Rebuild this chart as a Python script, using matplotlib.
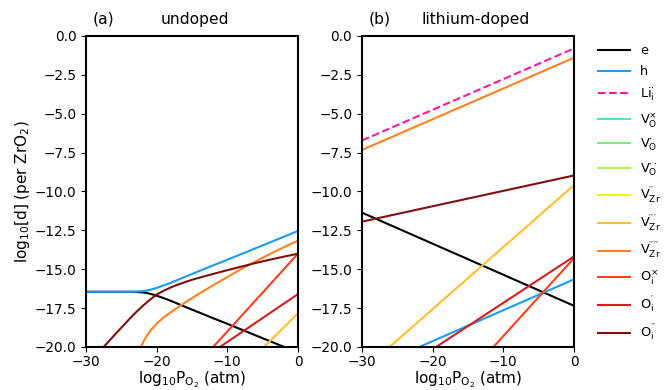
import matplotlib
import matplotlib.pyplot as plt

matplotlib.use("Agg")

# ---- panel (a): undoped ----
hx_a = [-30, -24, -23, -22, -21.5, -21, -20.5, -20, -19, -18, -16, -14, -12,
        -10, -8, -6, -4, -2, 0]
h_a = [-16.45, -16.45, -16.44, -16.41, -16.38, -16.33, -16.27, -16.20, -16.04,
       -15.87, -15.49, -15.12, -14.75, -14.39, -14.02, -13.65, -13.28, -12.91,
       -12.54]
e_a = [-16.45, -16.45, -16.46, -16.49, -16.52, -16.57, -16.63, -16.70, -16.86,
       -17.03, -17.41, -17.78, -18.15, -18.51, -18.88, -19.25, -19.62, -19.99,
       -20.36]

oi2x_a = [-30, -27.5, -26, -24, -23, -22, -21, -20, -19, -18, -17, -16, -15,
          -14, -12, -10, -8, -6, -4, -2, 0]
oi2_a = [-21.25, -20.0, -19.25, -18.27, -17.8, -17.37, -16.98, -16.63, -16.38,
         -16.17, -15.99, -15.83, -15.68, -15.55, -15.3, -15.06, -14.83, -14.6,
         -14.39, -14.19, -14.0]

vzr4x_a = [-22.4, -22.2, -21.8, -21.3, -20.7, -20, -19, -18, -17, -16, -14,
           -12, -10, -8, -6, -4, -2, 0]
vzr4_a = [-20.3, -20.0, -19.6, -19.2, -18.85, -18.5, -18.1, -17.77, -17.45,
          -17.15, -16.57, -16.03, -15.5, -14.98, -14.5, -14.03, -13.58, -13.16]

oi0x_a = [-12.0, 0]
oi0_a = [-20.0, -14.0]
oi1x_a = [-11.05, 0]
oi1_a = [-20.0, -16.6]
vzr3x_a = [-4.8, 0]
vzr3_a = [-20.0, -17.83]

# ---- panel (b): lithium-doped ----
pO2_b = [-30, 0]
li_b = [-6.72, -0.80]
vzr4_b = [-7.33, -1.40]
oi2_b = [-11.94, -8.97]
e_b = [-11.36, -17.35]
vzr3x_b = [-26.1, 0]
vzr3_b = [-20.0, -9.59]
hx_b = [-21.9, 0]
h_b = [-20.0, -15.65]
oi1x_b = [-19.5, 0]
oi1_b = [-20.0, -14.18]
oi0x_b = [-11.4, 0]
oi0_b = [-20.0, -14.29]

labels = {
    "e": "e",
    "h": "h",
    "li": r"$\mathregular{Li_i^{\cdot}}$",
    "vo0": r"$\mathregular{V_O^{\times}}$",
    "vo1": r"$\mathregular{V_O^{\cdot}}$",
    "vo2": r"$\mathregular{V_O^{\cdot\cdot}}$",
    "vzr2": r"$\mathregular{V_{Zr}^{\prime\prime}}$",
    "vzr3": r"$\mathregular{V_{Zr}^{\prime\prime\prime}}$",
    "vzr4": r"$\mathregular{V_{Zr}^{\prime\prime\prime\prime}}$",
    "oi0": r"$\mathregular{O_i^{\times}}$",
    "oi1": r"$\mathregular{O_i^{\prime}}$",
    "oi2": r"$\mathregular{O_i^{\prime\prime}}$",
}
colors = {
    "e": "black", "h": "#1a9cf5", "li": "#ff1a9c",
    "vo0": "#3cf5b4", "vo1": "#78f07c", "vo2": "#b4f050",
    "vzr2": "#e8f51e", "vzr3": "#ffc02a", "vzr4": "#ff8020",
    "oi0": "#ff4020", "oi1": "#d21e1e", "oi2": "#801010",
}

plt.rcParams["font.size"] = 9.3
fig = plt.figure(figsize=(6.66, 3.9), dpi=100)
ax1 = fig.add_axes([0.1291, 0.1103, 0.3183, 0.7974])
ax2 = fig.add_axes([0.5435, 0.1103, 0.3183, 0.7974])
lw = 1.5

ax1.plot(hx_a, e_a, color=colors["e"], lw=lw)
ax1.plot(hx_a, h_a, color=colors["h"], lw=lw)
ax1.plot(vzr3x_a, vzr3_a, color=colors["vzr3"], lw=lw)
ax1.plot(vzr4x_a, vzr4_a, color=colors["vzr4"], lw=lw)
ax1.plot(oi0x_a, oi0_a, color=colors["oi0"], lw=lw)
ax1.plot(oi1x_a, oi1_a, color=colors["oi1"], lw=lw)
ax1.plot(oi2x_a, oi2_a, color=colors["oi2"], lw=lw)

ax2.plot(pO2_b, e_b, color=colors["e"], lw=lw, label=labels["e"])
ax2.plot(hx_b, h_b, color=colors["h"], lw=lw, label=labels["h"])
ax2.plot(pO2_b, li_b, color=colors["li"], lw=lw, ls="--", label=labels["li"])
# these species stay below the plotted range
for key in ["vo0", "vo1", "vo2", "vzr2"]:
    ax2.plot([], [], color=colors[key], lw=lw, label=labels[key])
ax2.plot(vzr3x_b, vzr3_b, color=colors["vzr3"], lw=lw, label=labels["vzr3"])
ax2.plot(pO2_b, vzr4_b, color=colors["vzr4"], lw=lw, label=labels["vzr4"])
ax2.plot(oi0x_b, oi0_b, color=colors["oi0"], lw=lw, label=labels["oi0"])
ax2.plot(oi1x_b, oi1_b, color=colors["oi1"], lw=lw, label=labels["oi1"])
ax2.plot(pO2_b, oi2_b, color=colors["oi2"], lw=lw, label=labels["oi2"])

for ax in (ax1, ax2):
    ax.set_xlim(-30, 0)
    ax.set_ylim(-20, 0)
    ax.set_xticks([-30, -20, -10, 0])
    ax.set_yticks([0, -2.5, -5, -7.5, -10, -12.5, -15, -17.5, -20])
    ax.tick_params(labelsize=9.8)
    ax.tick_params(axis="x", pad=2.5)
    ax.set_xlabel(r"$\mathregular{log_{10}P_{O_2}}$ (atm)", fontsize=11, labelpad=0)
    for s in ax.spines.values():
        s.set_linewidth(1.5)

ax1.set_ylabel(r"log$_{10}$[d] (per ZrO$_2$)", fontsize=11, labelpad=2)
ax1.text(0.033, 1.04, "(a)", transform=ax1.transAxes, fontsize="large", ha="left")
ax1.text(0.514, 1.04, "undoped", transform=ax1.transAxes, fontsize="large", ha="center")
ax2.text(0.033, 1.04, "(b)", transform=ax2.transAxes, fontsize="large", ha="left")
ax2.text(0.538, 1.04, "lithium-doped", transform=ax2.transAxes, fontsize="large", ha="center")

fig.legend(loc="upper left", bbox_to_anchor=(0.88, 0.916), frameon=False,
           handlelength=2.5, labelspacing=0.6, fontsize=9.3)

fig.savefig("out.png", dpi=100)
plt.close(fig)
